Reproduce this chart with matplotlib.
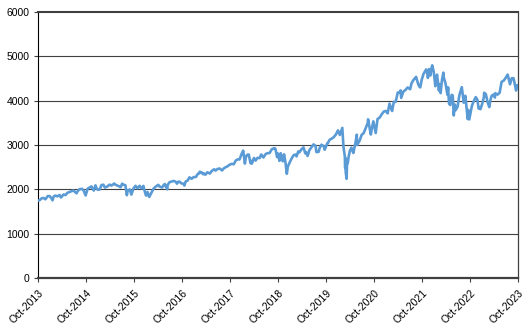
import numpy as np
import pandas as pd
import matplotlib
matplotlib.use('Agg')
import matplotlib.pyplot as plt
import matplotlib.dates as mdates

# ── Data (approximate index level) ──
dates = [
    "2013-10-18", "2013-10-31", "2013-11-15", "2013-11-29", "2013-12-13", "2013-12-31",
    "2014-01-15", "2014-01-31", "2014-02-05", "2014-02-14", "2014-02-28", "2014-03-14",
    "2014-03-31", "2014-04-11", "2014-04-30", "2014-05-15", "2014-05-30", "2014-06-13",
    "2014-06-30", "2014-07-15", "2014-07-31", "2014-08-07", "2014-08-15", "2014-08-29",
    "2014-09-18", "2014-09-30", "2014-10-15", "2014-10-31", "2014-11-14", "2014-11-28",
    "2014-12-16", "2014-12-29", "2014-12-31",
    "2015-01-15", "2015-01-30", "2015-02-13", "2015-02-27", "2015-03-11", "2015-03-31",
    "2015-04-15", "2015-04-30", "2015-05-21", "2015-05-29", "2015-06-15", "2015-06-30",
    "2015-07-08", "2015-07-20", "2015-07-31", "2015-08-14", "2015-08-25", "2015-08-31",
    "2015-09-16", "2015-09-28", "2015-10-15", "2015-10-30", "2015-11-13", "2015-11-30",
    "2015-12-14", "2015-12-29", "2015-12-31",
    "2016-01-15", "2016-01-20", "2016-01-29", "2016-02-11", "2016-02-29", "2016-03-15",
    "2016-03-31", "2016-04-20", "2016-04-29", "2016-05-19", "2016-05-31", "2016-06-08",
    "2016-06-27", "2016-06-30", "2016-07-15", "2016-07-29", "2016-08-15", "2016-08-31",
    "2016-09-09", "2016-09-22", "2016-09-30", "2016-10-14", "2016-10-31", "2016-11-04",
    "2016-11-15", "2016-11-30", "2016-12-13", "2016-12-30",
    "2017-01-13", "2017-01-31", "2017-02-15", "2017-02-28", "2017-03-01", "2017-03-15",
    "2017-03-27", "2017-03-31", "2017-04-13", "2017-04-28", "2017-05-17", "2017-05-31",
    "2017-06-19", "2017-06-30", "2017-07-14", "2017-07-31", "2017-08-18", "2017-08-31",
    "2017-09-15", "2017-09-29", "2017-10-13", "2017-10-31", "2017-11-15", "2017-11-30",
    "2017-12-15", "2017-12-29",
    "2018-01-12", "2018-01-26", "2018-02-08", "2018-02-15", "2018-02-26", "2018-03-09",
    "2018-03-23", "2018-03-29", "2018-04-02", "2018-04-18", "2018-04-30", "2018-05-15",
    "2018-05-31", "2018-06-12", "2018-06-29", "2018-07-16", "2018-07-31", "2018-08-15",
    "2018-08-31", "2018-09-20", "2018-09-28", "2018-10-11", "2018-10-17", "2018-10-29",
    "2018-10-31", "2018-11-07", "2018-11-23", "2018-11-30", "2018-12-03", "2018-12-14",
    "2018-12-24", "2018-12-31",
    "2019-01-15", "2019-01-31", "2019-02-15", "2019-02-28", "2019-03-08", "2019-03-21",
    "2019-03-29", "2019-04-15", "2019-04-30", "2019-05-13", "2019-05-20", "2019-05-31",
    "2019-06-14", "2019-06-28", "2019-07-15", "2019-07-31", "2019-08-05", "2019-08-14",
    "2019-08-23", "2019-08-30", "2019-09-13", "2019-09-30", "2019-10-08", "2019-10-28",
    "2019-10-31", "2019-11-15", "2019-11-29", "2019-12-13", "2019-12-31",
    "2020-01-17", "2020-01-31", "2020-02-19", "2020-02-28", "2020-03-09", "2020-03-12",
    "2020-03-13", "2020-03-16", "2020-03-23", "2020-03-26", "2020-03-31", "2020-04-08",
    "2020-04-17", "2020-04-29", "2020-04-30", "2020-05-13", "2020-05-29", "2020-06-08",
    "2020-06-11", "2020-06-30", "2020-07-15", "2020-07-31", "2020-08-14", "2020-08-31",
    "2020-09-02", "2020-09-23", "2020-09-30", "2020-10-12", "2020-10-30", "2020-11-13",
    "2020-11-30", "2020-12-15", "2020-12-31",
    "2021-01-15", "2021-01-29", "2021-02-12", "2021-02-26", "2021-03-04", "2021-03-17",
    "2021-03-31", "2021-04-16", "2021-04-30", "2021-05-07", "2021-05-12", "2021-05-28",
    "2021-06-15", "2021-06-30", "2021-07-19", "2021-07-30", "2021-08-16", "2021-08-31",
    "2021-09-02", "2021-09-20", "2021-09-30", "2021-10-04", "2021-10-15", "2021-10-29",
    "2021-11-18", "2021-11-30", "2021-12-01", "2021-12-10", "2021-12-20", "2021-12-31",
    "2022-01-03", "2022-01-14", "2022-01-27", "2022-01-31", "2022-02-09", "2022-02-23",
    "2022-02-28", "2022-03-08", "2022-03-18", "2022-03-29", "2022-03-31", "2022-04-14",
    "2022-04-29", "2022-05-04", "2022-05-11", "2022-05-20", "2022-05-31", "2022-06-08",
    "2022-06-16", "2022-06-24", "2022-06-30", "2022-07-15", "2022-07-29", "2022-08-16",
    "2022-08-31", "2022-09-12", "2022-09-30", "2022-10-04", "2022-10-12", "2022-10-31",
    "2022-11-10", "2022-11-30", "2022-12-13", "2022-12-22", "2022-12-30",
    "2023-01-05", "2023-01-18", "2023-01-31", "2023-02-02", "2023-02-15", "2023-02-28",
    "2023-03-13", "2023-03-21", "2023-03-31", "2023-04-14", "2023-04-25", "2023-04-28",
    "2023-05-15", "2023-05-31", "2023-06-15", "2023-06-30", "2023-07-14", "2023-07-31",
    "2023-08-18", "2023-08-31", "2023-09-14", "2023-09-29", "2023-10-03", "2023-10-12",
    "2023-10-18",
]
values = [
    1744, 1757, 1798, 1806, 1775, 1848,
    1848, 1783, 1752, 1838, 1859, 1841,
    1872, 1816, 1884, 1870, 1924, 1936,
    1960, 1973, 1931, 1910, 1955, 2003,
    2011, 1972, 1862, 2018, 2039, 2068,
    1972, 2090, 2059,
    1992, 1995, 2096, 2105, 2040, 2068,
    2106, 2086, 2131, 2107, 2084, 2063,
    2047, 2128, 2104, 2092, 1867, 1972,
    1996, 1881, 2023, 2079, 2023, 2080,
    2021, 2078, 2044,
    1880, 1859, 1940, 1829, 1932, 2015,
    2060, 2102, 2065, 2040, 2097, 2119,
    2000, 2099, 2162, 2174, 2190, 2171,
    2128, 2177, 2168, 2133, 2126, 2085,
    2180, 2199, 2271, 2239,
    2275, 2279, 2349, 2364, 2396, 2385,
    2342, 2363, 2329, 2384, 2357, 2412,
    2453, 2423, 2459, 2470, 2426, 2472,
    2500, 2519, 2553, 2575, 2565, 2648,
    2676, 2674,
    2786, 2873, 2581, 2732, 2780, 2786,
    2588, 2641, 2582, 2708, 2648, 2711,
    2705, 2787, 2718, 2798, 2816, 2819,
    2902, 2931, 2914, 2728, 2809, 2641,
    2712, 2814, 2633, 2760, 2790, 2600,
    2351, 2507,
    2610, 2704, 2775, 2784, 2743, 2855,
    2834, 2905, 2946, 2812, 2840, 2752,
    2887, 2942, 3014, 2980, 2844, 2840,
    2847, 2926, 3007, 2977, 2893, 3039,
    3038, 3120, 3141, 3169, 3231,
    3330, 3226, 3386, 2954, 2747, 2481,
    2711, 2386, 2237, 2630, 2585, 2750,
    2875, 2940, 2912, 2820, 3044, 3232,
    3002, 3100, 3227, 3271, 3373, 3500,
    3580, 3237, 3363, 3534, 3270, 3585,
    3622, 3694, 3756,
    3768, 3714, 3934, 3811, 3768, 3974,
    3973, 4185, 4181, 4232, 4063, 4204,
    4246, 4298, 4258, 4395, 4479, 4523,
    4537, 4358, 4308, 4300, 4471, 4605,
    4705, 4567, 4513, 4712, 4568, 4766,
    4797, 4663, 4326, 4516, 4587, 4226,
    4374, 4170, 4463, 4632, 4530, 4393,
    4132, 4300, 3935, 3901, 4132, 4116,
    3667, 3912, 3785, 3863, 4130, 4305,
    3955, 4110, 3586, 3791, 3577, 3872,
    3956, 4080, 4019, 3822, 3840,
    3808, 3929, 4077, 4179, 4148, 3970,
    3855, 4002, 4109, 4138, 4071, 4169,
    4136, 4180, 4426, 4450, 4505, 4589,
    4370, 4508, 4505, 4288, 4229, 4350,
    4314,
]
x_ticks = [f"{y}-10-18" for y in range(2013, 2024)]
x_labels = [f"Oct-{y}" for y in range(2013, 2024)]
y_ticks = [0, 1000, 2000, 3000, 4000, 5000, 6000]

t = pd.to_datetime(dates)
ticks = pd.to_datetime(x_ticks)

plt.rcParams['font.family'] = ['Liberation Sans', 'DejaVu Sans']

fig = plt.figure(figsize=(5.31, 3.29), dpi=100)
ax = fig.add_axes([0.0716, 0.155, 0.904, 0.8085])

for v in y_ticks[1:-1]:
    ax.axhline(v, color='#404040', lw=0.8, zorder=1)

ax.plot(t, values, color='#5b9bd5', lw=1.9, zorder=3)

ax.set_xlim(ticks[0], ticks[-1])
ax.set_ylim(0, 6000)
ax.set_yticks(y_ticks)
ax.set_yticklabels([str(v) for v in y_ticks])
ax.set_xticks(ticks)
ax.set_xticklabels(x_labels, rotation=45, ha='right', rotation_mode='anchor')

ax.tick_params(axis='both', labelsize=7.5, colors='#000000', length=3,
               width=0.8, direction='out', pad=3)
ax.tick_params(axis='x', color='#404040', pad=4)
ax.tick_params(axis='y', color='#404040')

ax.spines['left'].set_color('#000000')
ax.spines['left'].set_linewidth(0.8)
ax.spines['bottom'].set_color('#404040')
ax.spines['bottom'].set_linewidth(1.6)
ax.spines['top'].set_color('#404040')
ax.spines['top'].set_linewidth(1.5)
ax.spines['right'].set_color('#404040')
ax.spines['right'].set_linewidth(0.9)

fig.savefig('out.png', dpi=100, facecolor='white')
